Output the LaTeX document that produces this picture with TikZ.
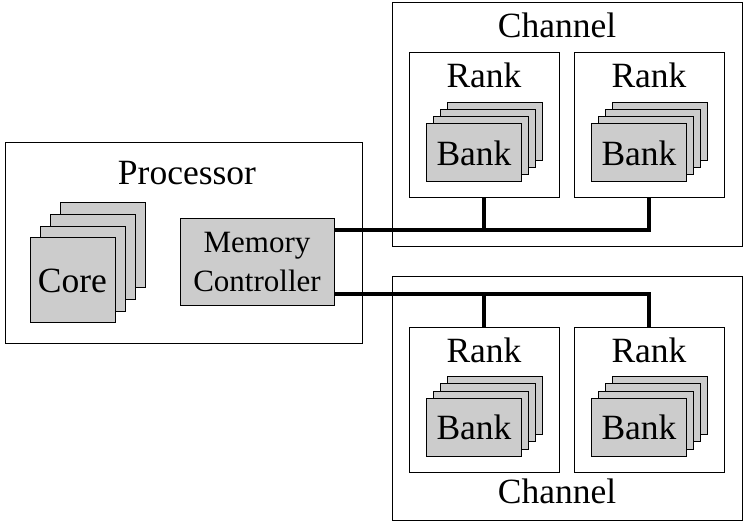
\documentclass[tikz,border=0pt]{standalone}
\usepackage{fontspec}
\setmainfont{Liberation Serif}
\usetikzlibrary{positioning,calc}
\definecolor{chip}{HTML}{CCCCCC}
\tikzset{
  frame/.style={draw,line width=1pt,fill=white,inner sep=0pt},
  part/.style={frame,fill=chip},
  bus/.style={line width=4.3pt},
  big/.style={font=\fontsize{35.5}{40}\selectfont},
}

\begin{document}
\begin{tikzpicture}[x=1pt,y=-1pt]
  \useasboundingbox (0,0) rectangle (747,526);

  % processor with cores and memory controller
  \node[frame,minimum width=357pt,minimum height=201pt] (proc) at (183.5,243.5) {};
  \node[big,anchor=base] (proctitle) at (187,185) {Processor};
  \foreach \k in {3,2,1}
    \node[part,minimum width=85pt,minimum height=85pt] (core\k) at (72.5+10.3*\k,280.5-11.8*\k) {};
  \node[part,big,minimum width=85pt,minimum height=85pt] (core0) at (72.5,280.5) {Core};
  \node[part,align=center,font=\fontsize{31}{39}\selectfont,minimum width=154pt,minimum height=87pt] (mc) at (257,262.5) {Memory\\Controller};

  % channels
  \node[frame,minimum width=350pt,minimum height=244pt] (chA) at (567,125) {};
  \node[frame,minimum width=350pt,minimum height=243pt] (chB) at (567,398.5) {};
  \node[big,anchor=base] (chAtitle) at (557,38) {Channel};
  \node[big,anchor=base] (chBtitle) at (557,503) {Channel};

  % ranks, each with a stack of banks
  \foreach \r/\x/\y in {A1/484/125.5,A2/649/125.5,B1/484/400,B2/649/400}{
    \node[frame,minimum width=150pt,minimum height=145pt] (rank\r) at (\x,\y) {};
    \node[big,anchor=base] (rank\r title) at (\x,\y-37.5) {Rank};
    \foreach \k in {3,2,1}
      \node[part,minimum width=95pt,minimum height=58pt] (bank\r-\k) at (\x-10+7*\k,\y+27.5-7.3*\k) {};
    \node[part,big,minimum width=95pt,minimum height=58pt] (bank\r-0) at (\x-10,\y+27.5) {Bank};
  }

  % buses from the controller to the ranks
  \coordinate (busA) at ([yshift=32.5pt]mc.east);
  \coordinate (busB) at ([yshift=-31.5pt]mc.east);
  \draw[bus] (busA) -| (rankA2.south);
  \draw[bus] (rankA1.south) -- (rankA1.south |- busA);
  \draw[bus] (busB) -| (rankB2.north);
  \draw[bus] (rankB1.north) -- (rankB1.north |- busB);
\end{tikzpicture}
\end{document}
